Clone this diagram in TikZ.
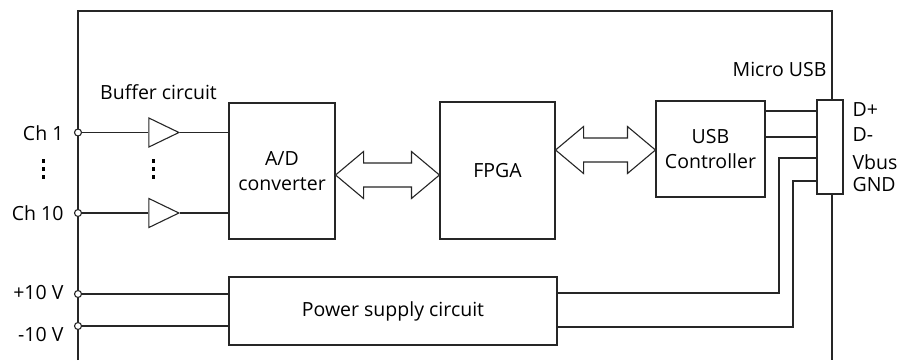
\documentclass[tikz,border=0pt]{standalone}
\usepackage{fontspec}
\setmainfont{Open Sans}
\usetikzlibrary{shapes.geometric,calc}

\tikzset{
  block/.style={draw, fill=white, inner sep=0pt, align=center, font=\lblfont},
  buffer/.style={draw, fill=white, isosceles triangle, isosceles triangle stretches,
    minimum width=29, minimum height=30, inner sep=0pt},
  pin/.style={circle, draw, fill=white, inner sep=0pt, minimum size=7},
  lbl/.style={inner sep=0pt, font=\lblfont},
}
\newcommand{\lblfont}{\fontsize{19.5}{25}\selectfont}
% wide bus arrow between two tips
\newcommand{\busarrow}[2]{%
  \draw[fill=white] (#1) -- ++(28,-23.5) -- ++(0,11.5) -- ($(#2)+(-28,-12)$) -- ++(0,-11.5)
    -- (#2) -- ++(-28,23.5) -- ++(0,-11.5) -- ($(#1)+(28,12)$) -- ++(0,11.5) -- cycle;}

\begin{document}
\begin{tikzpicture}[x=1pt,y=-1pt,line width=1.1pt,draw=black!85]
   \useasboundingbox (0,0) rectangle (902,360);
   % frame
   \draw (78,360) -- (78,11) -- (832,11) -- (832,360);
   % blocks
   \node[block, minimum width=106, minimum height=136] (ad) at (282,171) {A/D\\converter};
   \node[block, minimum width=115, minimum height=137] (fpga) at (497.5,170.5) {FPGA};
   \node[block, minimum width=109, minimum height=96] (usb) at (710.5,149) {USB\\Controller};
   \node[block, minimum width=328, minimum height=68] (psu) at (393,311) {Power supply circuit};
   \node[block, minimum width=26, minimum height=94] (conn) at (830,147) {};
   % inputs
   \node[pin] (ch1) at (78,132.5) {};
   \node[pin] (ch10) at (78,213) {};
   \node[pin] (pos) at (78,294) {};
   \node[pin] (neg) at (78,326) {};
   \node[buffer] (buf1) at (158,132.5) {};
   \node[buffer] (buf10) at (158,213) {};
   \draw (ch1) -- (buf1.west);
   \draw (buf1.east) -- (buf1.east -| ad.west);
   \draw (ch10) -- (buf10.west);
   \draw (buf10.east) -- (buf10.east -| ad.west);
   \draw (pos) -- (pos -| psu.west);
   \draw (neg) -- (neg -| psu.west);
   \foreach \x in {43,153}{
     \foreach \y in {161,169,177}
       \fill (\x-1.5,\y-2) rectangle (\x+1.5,\y+2);
   }
   % buses
   \busarrow{ad.east |- 0,175}{fpga.west |- 0,175}
   \busarrow{fpga.east |- 0,150}{usb.west |- 0,150}
   % usb pins
   \coordinate (dp) at (817,111);
   \coordinate (dm) at (817,137);
   \coordinate (vb) at (817,158);
   \coordinate (gnd) at (817,181);
   \draw (dp) -- (dp -| usb.east);
   \draw (dm) -- (dm -| usb.east);
   \draw (vb) -- ++(-38,0) |- (psu.east |- 0,293);
   \draw (gnd) -- ++(-24,0) |- (psu.east |- 0,327);
   % labels
   \node[lbl, anchor=east] at (64,133) {Ch 1};
   \node[lbl, anchor=east] at (64,213) {Ch 10};
   \node[lbl, anchor=east] at (64,293) {+10 V};
   \node[lbl, anchor=east] at (64,335) {-10 V};
   \node[lbl] at (158.5,92) {Buffer circuit};
   \node[lbl, anchor=east] at (827,69) {Micro USB};
   \node[lbl, anchor=west] at (852,110) {D+};
   \node[lbl, anchor=west] at (852,135) {D-};
   \node[lbl, anchor=west] at (852,162) {Vbus};
   \node[lbl, anchor=west] at (852,185) {GND};
  \end{tikzpicture}
\end{document}
